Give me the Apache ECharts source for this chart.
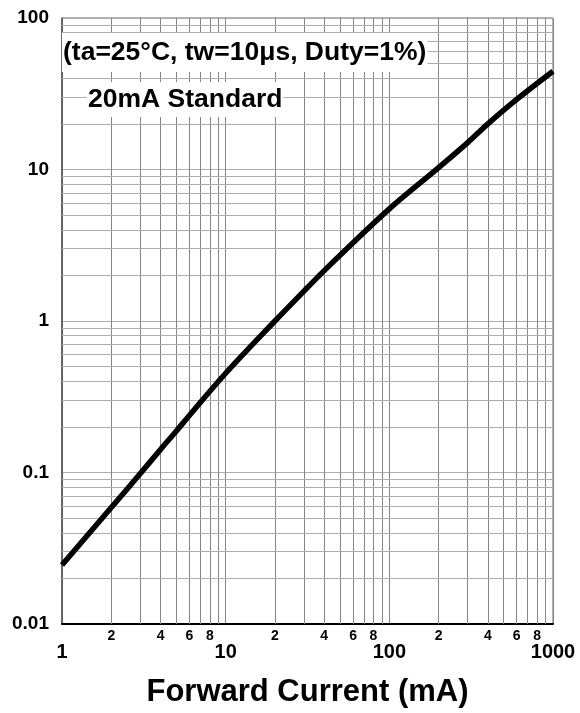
<!DOCTYPE html>
<html><head><meta charset="utf-8">
<script src="https://cdn.jsdelivr.net/npm/echarts@6/dist/echarts.min.js"></script>
<style>html,body{margin:0;padding:0;background:#fff}#c{width:580px;height:713px}</style>
</head><body><div id="c"></div>
<script>
// ---- data ----
const forwardCurrent    = [1, 2, 3, 4, 5, 6, 10, 20, 30, 40, 55, 100, 200, 300, 400, 600, 1000];
const relativeIntensity = [0.0245, 0.0587, 0.098, 0.142, 0.188, 0.238, 0.452, 1.0, 1.57, 2.15, 3.0, 5.5, 10.3, 15.0, 20.0, 29.0, 44.5];

const xTickValues = [1, 10, 100, 1000];
const xTickLabels = ['1', '10', '100', '1000'];
const yTickValues = [0.01, 0.1, 1, 10, 100];
const yTickLabels = ['0.01', '0.1', '1', '10', '100'];
const minorMantissas = [2, 3, 4, 5, 6, 7, 8, 9];
const labeledMinor = [2, 4, 6, 8];
const xDecades = [1, 10, 100];
const yDecades = [0.01, 0.1, 1, 10];
const xAxisTitle = 'Forward Current (mA)';
const noteConditions = '(ta=25°C, tw=10μs, Duty=1%)';
const noteStandard = '20mA Standard';

const FF = '"Liberation Sans", Arial, sans-serif';

function labelFor(values, labels, v) {
  let best = 0, bd = Infinity;
  values.forEach((t, i) => { const d = Math.abs(Math.log10(t) - Math.log10(v)); if (d < bd) { bd = d; best = i; } });
  return bd < 0.01 ? labels[best] : '';
}

const vLines = [];
xDecades.forEach(d => minorMantissas.forEach(m => {
  vLines.push({ xAxis: d * m, label: { show: labeledMinor.includes(m), formatter: String(m) } });
}));
const hLines = [];
yDecades.forEach(d => minorMantissas.forEach(m => {
  hLines.push({ yAxis: d * m, label: { show: false } });
}));

const chart = echarts.init(document.getElementById('c'), null, { renderer: 'canvas' });
chart.setOption({
  animation: false,
  backgroundColor: '#fff',
  grid: { left: 62, top: 18, width: 491, height: 606, show: true, borderColor: '#666', borderWidth: 1, backgroundColor: 'transparent' },
  xAxis: {
    type: 'log', logBase: 10, min: 1, max: 1000,
    name: xAxisTitle, nameLocation: 'middle', nameGap: 53,
    nameTextStyle: { fontFamily: FF, fontWeight: 'bold', fontSize: 31, color: '#000' },
    axisLine: { show: true, lineStyle: { color: '#000', width: 2 } },
    axisTick: { show: false },
    axisLabel: { margin: 18, fontFamily: FF, fontWeight: 'bold', fontSize: 20, color: '#000',
      formatter: v => labelFor(xTickValues, xTickLabels, v) },
    splitLine: { show: true, lineStyle: { color: '#858585', width: 1 } }
  },
  yAxis: {
    type: 'log', logBase: 10, min: 0.01, max: 100,
    axisLine: { show: true, lineStyle: { color: '#555', width: 1.5 } },
    axisTick: { show: false },
    axisLabel: { margin: 13, fontFamily: FF, fontWeight: 'bold', fontSize: 19, color: '#000',
      formatter: v => labelFor(yTickValues, yTickLabels, v) },
    splitLine: { show: true, lineStyle: { color: '#adadad', width: 1 } }
  },
  series: [
    { type: 'line', data: [], z: 1, silent: true,
      markLine: { silent: true, symbol: ['none', 'none'], animation: false,
        lineStyle: { color: '#858585', width: 1, type: 'solid' },
        label: { position: 'start', distance: 5, fontFamily: FF, fontSize: 14, fontWeight: 'bold', color: '#000' },
        emphasis: { disabled: true },
        data: vLines } },
    { type: 'line', data: [], z: 1, silent: true,
      markLine: { silent: true, symbol: ['none', 'none'], animation: false,
        lineStyle: { color: '#adadad', width: 1, type: 'solid' },
        label: { show: false },
        emphasis: { disabled: true },
        data: hLines } },
    { type: 'line', z: 5, showSymbol: false, smooth: 0.35, silent: true,
      data: forwardCurrent.map((x, i) => [x, relativeIntensity[i]]),
      lineStyle: { color: '#000', width: 5.5, cap: 'butt' } }
  ],
  graphic: [
    { type: 'text', left: 62, top: 33, z: 100,
      style: { text: noteConditions, fontFamily: FF, fontWeight: 'bold', fontSize: 26.5, fill: '#000', backgroundColor: '#fff', padding: [6, 1, 6, 1] } },
    { type: 'text', left: 87, top: 82, z: 100,
      style: { text: noteStandard, fontFamily: FF, fontWeight: 'bold', fontSize: 26.5, fill: '#000', backgroundColor: '#fff', padding: [4, 1, 4, 1] } }
  ]
});
</script>
</body></html>
